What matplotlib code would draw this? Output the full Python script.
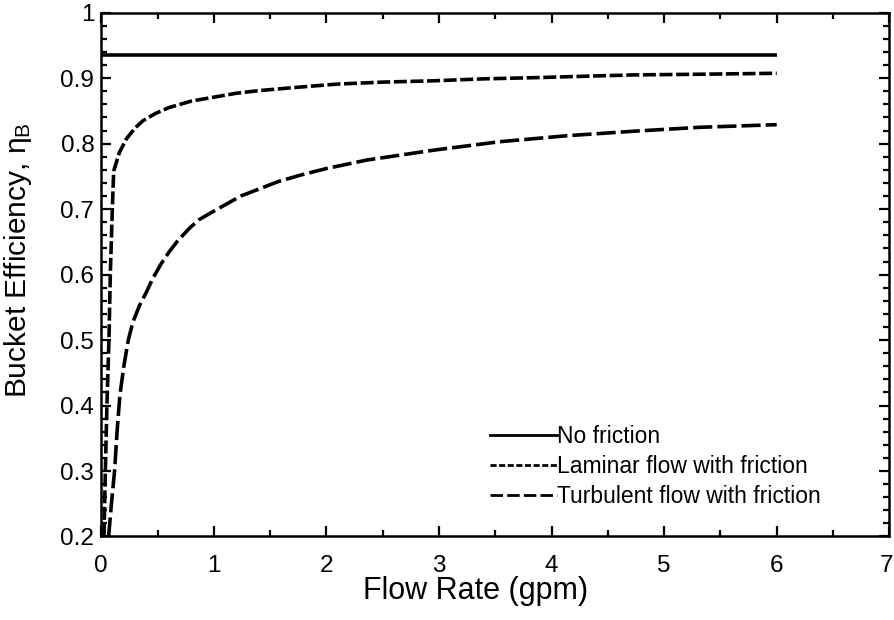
import matplotlib
matplotlib.use("Agg")
import matplotlib.pyplot as plt
from matplotlib.ticker import MultipleLocator
from matplotlib.lines import Line2D
from matplotlib.transforms import ScaledTranslation

plt.rcParams['font.family'] = ['Liberation Sans', 'DejaVu Sans']
plt.rcParams['mathtext.fontset'] = 'custom'
plt.rcParams['mathtext.rm'] = 'Liberation Sans'
plt.rcParams['mathtext.it'] = 'Liberation Sans'
plt.rcParams['mathtext.sf'] = 'Liberation Sans'

# Ideal bucket efficiency without friction
flow_none = [0.0, 6.0]
eff_none = [0.935, 0.935]

# Laminar flow with friction
flow_laminar = [0.024, 0.036, 0.05, 0.068, 0.08, 0.098, 0.11, 0.16, 0.222, 0.3,
                0.37, 0.48, 0.6, 0.8, 1.0, 1.2, 1.4, 1.77, 2.1, 2.5, 2.95, 3.4,
                3.9, 4.3, 4.73, 5.3, 6.0]
eff_laminar = [0.2, 0.3, 0.4, 0.5, 0.6, 0.7, 0.758, 0.786, 0.807, 0.824,
               0.835, 0.846, 0.855, 0.865, 0.871, 0.877, 0.881, 0.8865, 0.891, 0.894, 0.896, 0.899,
               0.901, 0.903, 0.905, 0.906, 0.9075]

# Turbulent flow with friction
flow_turb = [0.065, 0.09, 0.118, 0.14, 0.165, 0.2, 0.24, 0.28, 0.34, 0.4,
             0.46, 0.53, 0.6, 0.68, 0.79, 0.87, 1.0, 1.24, 1.57, 1.77, 2.0,
             2.36, 2.95, 3.54, 4.13, 4.73, 5.32, 6.0]
eff_turb = [0.2, 0.25, 0.30, 0.36, 0.415, 0.46, 0.5, 0.527, 0.553, 0.573,
            0.595, 0.616, 0.634, 0.652, 0.672, 0.684, 0.697, 0.72, 0.742, 0.752, 0.762,
            0.775, 0.790, 0.803, 0.812, 0.819, 0.825, 0.829]

labels = ["No friction", "Laminar flow with friction", "Turbulent flow with friction"]
x_ticks = [0, 1, 2, 3, 4, 5, 6, 7]
y_ticks = [0.2, 0.3, 0.4, 0.5, 0.6, 0.7, 0.8, 0.9, 1.0]
y_ticklabels = ["0.2", "0.3", "0.4", "0.5", "0.6", "0.7", "0.8", "0.9", "1"]

fig = plt.figure(figsize=(8.94, 6.2), dpi=100)
ax = fig.add_axes([0.1133, 0.1347, 0.8814, 0.8448])

lw = 2.6
ax.plot(flow_none, eff_none, color='black', lw=lw, solid_capstyle='butt')
ax.plot(flow_laminar, eff_laminar, color='black', lw=lw, dashes=(3.6, 1.0))
ax.plot(flow_turb, eff_turb, color='black', lw=lw, dashes=(5.3, 1.4))

ax.set_xlim(0, 7)
ax.set_ylim(0.2, 1.0)
ax.set_xticks(x_ticks)
ax.xaxis.set_minor_locator(MultipleLocator(0.5))
ax.yaxis.set_minor_locator(MultipleLocator(0.02))
ax.set_yticks(y_ticks)
ax.set_yticklabels(y_ticklabels)
ax.tick_params(which='both', direction='in', top=True, right=True, width=1.6,
               labelsize=17.5)
ax.tick_params(axis='y', pad=5)
ax.tick_params(axis='x', pad=13)
ax.tick_params(which='major', length=7.5)
ax.tick_params(which='minor', length=4.2)
for s in ax.spines.values():
    s.set_linewidth(1.8)

# keep the last x tick label inside the canvas
last = ax.xaxis.get_major_ticks()[len(x_ticks) - 1].label1
last.set_transform(last.get_transform() + ScaledTranslation(-2.5 / 100, 0, fig.dpi_scale_trans))

ax.set_xlabel("Flow Rate (gpm)", fontsize=22, va='top')
ax.xaxis.set_label_coords(0.4755, -0.0754)
ax.set_ylabel(r"Bucket Efficiency, $\eta_\mathrm{B}$", fontsize=21.5)
ax.yaxis.set_label_coords(-0.085, 0.528)

handles = [Line2D([], [], color='black', lw=2.0),
           Line2D([], [], color='black', lw=2.0, dashes=(2.2, 0.9)),
           Line2D([], [], color='black', lw=2.0, dashes=(4.5, 1.5))]
ax.legend(handles, labels, loc='upper left', bbox_to_anchor=(0.548, 1 - 425 / 620),
          bbox_transform=fig.transFigure, frameon=False, fontsize=16.5,
          handlelength=2.93, handletextpad=0.0, labelspacing=0.31, borderpad=0,
          borderaxespad=0)

fig.savefig("out.png", dpi=100)
